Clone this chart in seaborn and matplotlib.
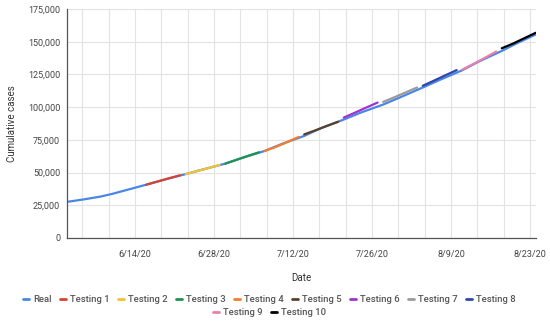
import pandas as pd
import numpy as np
import matplotlib
matplotlib.use("Agg")
import matplotlib.pyplot as plt
import matplotlib.dates as mdates
from matplotlib.lines import Line2D
from matplotlib.ticker import FuncFormatter
import seaborn as sns

# ---- data ----
real_dates = ["2020-06-02", "2020-06-05", "2020-06-08", "2020-06-10", "2020-06-13",
              "2020-06-16", "2020-06-19", "2020-06-23", "2020-06-26", "2020-06-30",
              "2020-07-03", "2020-07-07", "2020-07-10", "2020-07-14", "2020-07-17",
              "2020-07-21", "2020-07-24", "2020-07-28", "2020-07-31", "2020-08-04",
              "2020-08-07", "2020-08-11", "2020-08-14", "2020-08-18", "2020-08-21",
              "2020-08-24"]
real_cases = [27600, 29500, 31700, 33700, 37200,
              40700, 44300, 48800, 52300, 56800,
              61200, 66500, 71800, 78000, 84000,
              90500, 95800, 102000, 107500, 115000,
              120800, 128200, 135000, 143000, 149500,
              155500]

testing_names = ["Testing 1", "Testing 2", "Testing 3", "Testing 4", "Testing 5",
                 "Testing 6", "Testing 7", "Testing 8", "Testing 9", "Testing 10"]
testing_start = ["2020-06-16", "2020-06-23", "2020-06-30", "2020-07-07", "2020-07-14",
                 "2020-07-21", "2020-07-28", "2020-08-04", "2020-08-11", "2020-08-18"]
# cumulative cases on days 0, 2, 4, 6 of each 7-day forecast window
testing_cases = [
    [40700, 43100, 45600, 47900],
    [48800, 51100, 53400, 55800],
    [56800, 59700, 62700, 65500],
    [66500, 69600, 73300, 77200],
    [79200, 82300, 85600, 88800],
    [92000, 95800, 99700, 103500],
    [104000, 107600, 111300, 115000],
    [116300, 120300, 124300, 128300],
    [128700, 133100, 137700, 142500],
    [145000, 148600, 152700, 156800],
]
testing_offsets = [0, 2, 4, 6]

colors = ["#4a86e8", "#d8432e", "#f1c232", "#1e9350", "#f47c2c", "#5b4128",
          "#a231d0", "#9a9a9a", "#2f47a8", "#ea7fab", "#000000"]
series_order = ["Real"] + testing_names

# ---- long-form table ----
rows = [{"Date": pd.Timestamp(d), "cases": c, "series": "Real"}
        for d, c in zip(real_dates, real_cases)]
for name, start, vals in zip(testing_names, testing_start, testing_cases):
    for off, v in zip(testing_offsets, vals):
        rows.append({"Date": pd.Timestamp(start) + pd.Timedelta(days=off),
                     "cases": v, "series": name})
df = pd.DataFrame(rows)

# ---- plot ----
sns.set_theme(style="white")
plt.rcParams["font.family"] = ["Roboto", "DejaVu Sans"]

fig = plt.figure(figsize=(5.5, 3.22), dpi=100)
ax = fig.add_axes([0.122, 0.261, 0.853, 0.711])

sns.lineplot(data=df, x="Date", y="cases", hue="series", hue_order=series_order,
             palette=dict(zip(series_order, colors)), linewidth=1.6,
             legend=False, ax=ax, estimator=None, sort=True)

x0 = mdates.date2num(pd.Timestamp("2020-06-02"))
x1 = mdates.date2num(pd.Timestamp("2020-08-24")) + 0.1
ax.set_xlim(x0, x1)
ax.set_ylim(0, 175000)

label_dates = pd.to_datetime(["2020-06-14", "2020-06-28", "2020-07-12",
                              "2020-07-26", "2020-08-09", "2020-08-23"])
label_nums = mdates.date2num(label_dates)
grid_nums = np.arange(label_nums[0] - 2 * 14 / 3, x1 + 0.01, 14 / 3)
grid_nums = grid_nums[grid_nums > x0 + 1]
ax.set_xticks(grid_nums, minor=True)
ax.set_xticks(label_nums)
ax.set_xticklabels([f"{d.month}/{d.day}/20" for d in label_dates])
ax.set_yticks(np.arange(0, 175001, 25000))
ax.yaxis.set_major_formatter(FuncFormatter(lambda v, p: f"{int(v):,}"))

ax.grid(True, which="both", axis="x", color="#e3e3e3", linewidth=0.8)
ax.grid(True, which="major", axis="y", color="#e3e3e3", linewidth=0.8)
ax.set_axisbelow(True)
for s in ["top", "right"]:
    ax.spines[s].set_visible(False)
for s in ["left", "bottom"]:
    ax.spines[s].set_color("#555555")
    ax.spines[s].set_linewidth(0.9)

ax.tick_params(axis="both", which="both", direction="out", length=3, width=0.8,
               color="#555555", labelsize=6.5, labelcolor="#444444", pad=2)
ax.tick_params(axis="x", which="major", pad=6)
ax.set_xlabel("Date", fontsize=7, color="#333333", labelpad=10)
ax.set_ylabel("Cumulative cases", fontsize=7, color="#333333", labelpad=8)

# ---- legend: two centred rows ----
def handles(names):
    return [Line2D([0], [0], color=colors[series_order.index(n)], linewidth=2)
            for n in names]

row1 = series_order[:9]
row2 = series_order[9:]
leg_kw = dict(frameon=False, handlelength=0.6, handletextpad=0.45, columnspacing=0.9,
              prop={"size": 6.8, "weight": "medium"}, labelcolor="#555555",
              borderaxespad=0, borderpad=0)
fig.legend(handles(row1), row1, ncol=9, loc="center",
           bbox_to_anchor=(0.49, 0.07), **leg_kw)
fig.legend(handles(row2), row2, ncol=2, loc="center",
           bbox_to_anchor=(0.49, 0.028), **leg_kw)

fig.savefig("out.png", dpi=100)
